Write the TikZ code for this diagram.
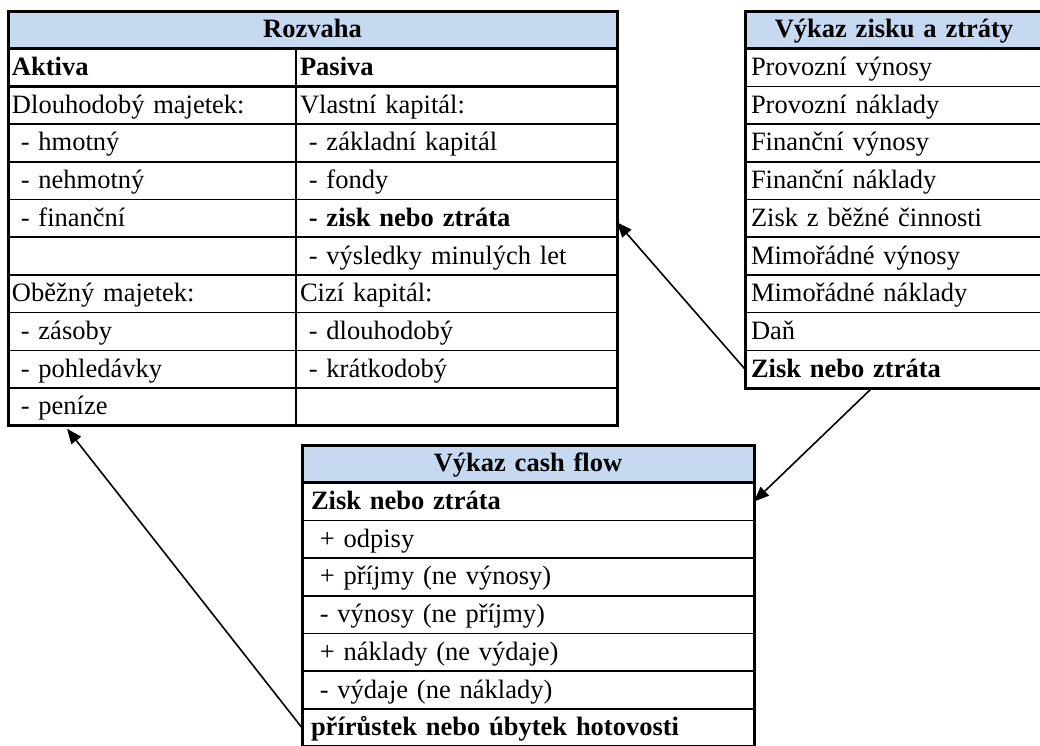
\documentclass[tikz,border=0pt]{standalone}
\usepackage{fontspec}
\setmainfont{Liberation Serif}
\usetikzlibrary{positioning,arrows.meta}

\newcommand{\cellfont}{\fontsize{26.5}{30}\selectfont}
\definecolor{headblue}{RGB}{198,217,241}
\tikzset{
  cell/.style={draw, line width=1.6pt, anchor=north west, minimum height=37.7pt,
    inner xsep=4pt, inner ysep=2pt, outer sep=0pt, text height=21pt, text depth=5pt, align=left},
  bold/.style={font=\cellfont\bfseries},
  head/.style={cell, bold, fill=headblue, align=center},
  frame/.style={line width=3pt},
  arr/.style={-{Triangle[length=15pt,width=12pt]}, line width=1.6pt}
}

\begin{document}
\begin{tikzpicture}[x=1pt,y=-1pt,node distance=0pt,font=\cellfont]
        \useasboundingbox (0,0) rectangle (1040,745);
        \clip (0,0) rectangle (1040,745);
        \node[head, text width=601pt] (r_h) at (8,11) {Rozvaha};
        \node[cell, text width=280pt, bold] (a_0) at (r_h.south west) {Aktiva};
        \node[cell, text width=280pt] (a_1) [below=of a_0] {Dlouhodobý majetek:};
        \node[cell, text width=280pt] (a_2) [below=of a_1] {\ - hmotný};
        \node[cell, text width=280pt] (a_3) [below=of a_2] {\ - nehmotný};
        \node[cell, text width=280pt] (a_4) [below=of a_3] {\ - finanční};
        \node[cell, text width=280pt] (a_5) [below=of a_4] {};
        \node[cell, text width=280pt] (a_6) [below=of a_5] {Oběžný majetek:};
        \node[cell, text width=280pt] (a_7) [below=of a_6] {\ - zásoby};
        \node[cell, text width=280pt] (a_8) [below=of a_7] {\ - pohledávky};
        \node[cell, text width=280pt] (a_9) [below=of a_8] {\ - peníze};
        \node[cell, text width=313pt, bold] (p_0) [right=of a_0] {Pasiva};
        \node[cell, text width=313pt] (p_1) [below=of p_0] {Vlastní kapitál:};
        \node[cell, text width=313pt] (p_2) [below=of p_1] {\ - základní kapitál};
        \node[cell, text width=313pt] (p_3) [below=of p_2] {\ - fondy};
        \node[cell, text width=313pt, bold] (p_4) [below=of p_3] {\ - zisk nebo ztráta};
        \node[cell, text width=313pt] (p_5) [below=of p_4] {\ - výsledky minulých let};
        \node[cell, text width=313pt] (p_6) [below=of p_5] {Cizí kapitál:};
        \node[cell, text width=313pt] (p_7) [below=of p_6] {\ - dlouhodobý};
        \node[cell, text width=313pt] (p_8) [below=of p_7] {\ - krátkodobý};
        \node[cell, text width=313pt] (p_9) [below=of p_8] {};
        \draw[frame] (r_h.north west) rectangle (p_9.south east);
        \draw[frame] (r_h.south west) -- (r_h.south east);
        \draw[frame] (a_0.south west) -- (p_0.south east);

        \node[head, text width=286pt, inner xsep=6pt] (v_h) at (745,11) {Výkaz zisku a ztráty};
        \node[cell, text width=286pt, inner xsep=6pt] (v_1) at (v_h.south west) {Provozní výnosy};
        \node[cell, text width=286pt, inner xsep=6pt] (v_2) [below=of v_1] {Provozní náklady};
        \node[cell, text width=286pt, inner xsep=6pt] (v_3) [below=of v_2] {Finanční výnosy};
        \node[cell, text width=286pt, inner xsep=6pt] (v_4) [below=of v_3] {Finanční náklady};
        \node[cell, text width=286pt, inner xsep=6pt] (v_5) [below=of v_4] {Zisk z běžné činnosti};
        \node[cell, text width=286pt, inner xsep=6pt] (v_6) [below=of v_5] {Mimořádné výnosy};
        \node[cell, text width=286pt, inner xsep=6pt] (v_7) [below=of v_6] {Mimořádné náklady};
        \node[cell, text width=286pt, inner xsep=6pt] (v_8) [below=of v_7] {Daň};
        \node[cell, text width=286pt, inner xsep=6pt, bold] (v_9) [below=of v_8] {Zisk nebo ztráta};
        \draw[frame] (v_h.north west) rectangle (v_9.south east);
        \draw[frame] (v_h.south west) -- (v_h.south east);

        \node[head, text width=434pt, inner xsep=9pt] (c_h) at (302,445) {Výkaz cash flow};
        \node[cell, text width=434pt, inner xsep=9pt, bold] (c_0) at (c_h.south west) {Zisk nebo ztráta};
        \node[cell, text width=434pt, inner xsep=9pt] (c_1) [below=of c_0] {\ + odpisy};
        \node[cell, text width=434pt, inner xsep=9pt] (c_2) [below=of c_1] {\ + příjmy (ne výnosy)};
        \node[cell, text width=434pt, inner xsep=9pt] (c_3) [below=of c_2] {\ - výnosy (ne příjmy)};
        \node[cell, text width=434pt, inner xsep=9pt] (c_4) [below=of c_3] {\ + náklady (ne výdaje)};
        \node[cell, text width=434pt, inner xsep=9pt] (c_5) [below=of c_4] {\ - výdaje (ne náklady)};
        \node[cell, text width=434pt, inner xsep=9pt, bold] (c_6) [below=of c_5] {přírůstek nebo úbytek hotovosti};
        \draw[frame] (c_h.north west) rectangle (c_6.south east);
        \draw[frame] (c_h.south west) -- (c_h.south east);

        \path[arr]
            (v_9.west) edge ([yshift=-4pt]p_4.east)
            ([xshift=127pt]v_9.south west) edge (c_0.east)
            (c_6.west) edge ([xshift=59pt,yshift=-3pt]a_9.south west);
\end{tikzpicture}
\end{document}
